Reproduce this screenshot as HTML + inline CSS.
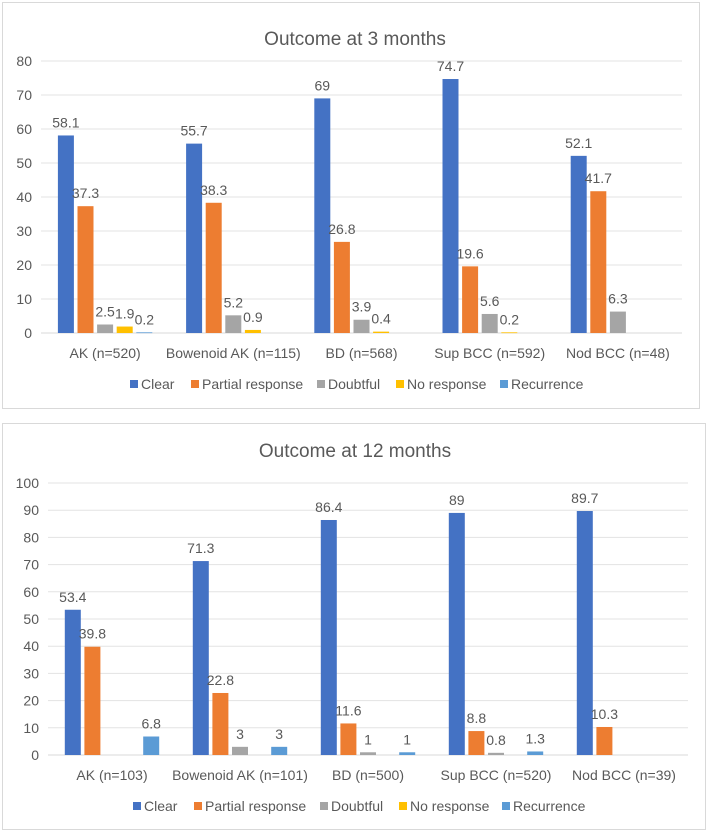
<!DOCTYPE html>
<html><head><meta charset="utf-8"><style>
body{margin:0;background:#fff;width:709px;height:832px;overflow:hidden}
svg text{font-family:"Liberation Sans",sans-serif;fill:#595959}
</style></head><body>
<svg width="709" height="832">
<g id="c1"></g>
<g id="c2"></g>
</svg>
<script>
const categories1 = ["AK (n=520)","Bowenoid AK (n=115)","BD (n=568)","Sup BCC (n=592)","Nod BCC (n=48)"];
const clear1 = [58.1,55.7,69,74.7,52.1];
const partial1 = [37.3,38.3,26.8,19.6,41.7];
const doubtful1 = [2.5,5.2,3.9,5.6,6.3];
const noresp1 = [1.9,0.9,0.4,0.2,null];
const recur1 = [0.2,null,null,null,null];
const ticks1 = [0,10,20,30,40,50,60,70,80];

const categories2 = ["AK (n=103)","Bowenoid AK (n=101)","BD (n=500)","Sup BCC (n=520)","Nod BCC (n=39)"];
const clear2 = [53.4,71.3,86.4,89,89.7];
const partial2 = [39.8,22.8,11.6,8.8,10.3];
const doubtful2 = [null,3,1,0.8,null];
const noresp2 = [null,null,null,null,null];
const recur2 = [6.8,3,1,1.3,null];
const ticks2 = [0,10,20,30,40,50,60,70,80,90,100];

const seriesNames = ["Clear","Partial response","Doubtful","No response","Recurrence"];
const colors = ["#4472C4","#ED7D31","#A5A5A5","#FFC000","#5B9BD5"];
const NS="http://www.w3.org/2000/svg";
function mk(parent,tag,attrs,txt){const e=document.createElementNS(NS,tag);for(const k in attrs)e.setAttribute(k,attrs[k]);if(txt!=null)e.textContent=txt;parent.appendChild(e);return e;}

function draw(g,cfg){
  const box=mk(g,'rect',{x:cfg.bx,y:cfg.by,width:cfg.bw,height:cfg.bh,fill:'#fff',stroke:'#d9d9d9','stroke-width':1});
  
  
  const t=mk(g,'text',{x:cfg.tx,y:cfg.ty,'text-anchor':'middle','font-size':19},cfg.title);
  
  
  const ymax=cfg.ticks[cfg.ticks.length-1];
  const y=v=>cfg.y0-(v/ymax)*(cfg.y0-cfg.ytop);
  cfg.ticks.forEach(v=>{
    const l=mk(g,'line',{x1:cfg.x0,x2:cfg.x1,y1:y(v),y2:y(v),stroke:v===0?'#d9d9d9':'#e3e3e3','stroke-width':1});
    
    
    const tl=mk(g,'text',{x:cfg.x0-9,y:y(v)+5,'text-anchor':'end','font-size':14},v);
    
    
  });
  const n=cfg.cats.length, cw=(cfg.x1-cfg.x0)/n, bw=16, step=19.6;
  cfg.cats.forEach((c,i)=>{
    const cx=cfg.x0+cw*(i+0.5);
    const cl=mk(g,'text',{x:cx,y:cfg.y0+25,'text-anchor':'middle','font-size':14},c);
    
    
    cfg.series.forEach((s,j)=>{
      const v=s[i]; if(v==null) return;
      const bx=cx-2*step-bw/2+j*step;
      const r=mk(g,'rect',{x:bx,y:y(v),width:bw,height:Math.max(y(0)-y(v),0.8),fill:colors[j]});
      
      
      const vl=mk(g,'text',{x:bx+bw/2,y:y(v)-8,'text-anchor':'middle','font-size':14},v);
      
      
    });
  });
  const lx=cfg.legx;
  seriesNames.forEach((s,j)=>{
    const sq=mk(g,'rect',{x:lx[j],y:cfg.ly-9,width:8,height:8,fill:colors[j]});
    
    
    const lt=mk(g,'text',{x:lx[j]+11,y:cfg.ly,'font-size':14},s);
    
    
  });
}
draw(document.getElementById('c1'),{bx:2.5,by:2.5,bw:697,bh:406,title:"Outcome at 3 months",tx:355,ty:45,
  x0:41,x1:682,y0:333,ytop:61,ticks:ticks1,cats:categories1,
  series:[clear1,partial1,doubtful1,noresp1,recur1],ly:389,legx:[130,191,317,396,500]});
draw(document.getElementById('c2'),{bx:2.5,by:423.5,bw:703,bh:406,title:"Outcome at 12 months",tx:355,ty:457,
  x0:48,x1:688,y0:755,ytop:483,ticks:ticks2,cats:categories2,
  series:[clear2,partial2,doubtful2,noresp2,recur2],ly:811,legx:[133,194,320,399,502]});
</script>
</body></html>
